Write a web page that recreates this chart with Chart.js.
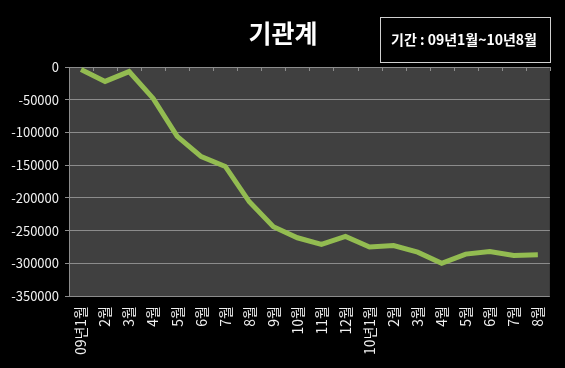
<!DOCTYPE html>
<html>
<head>
<meta charset="utf-8">
<script src="https://cdn.jsdelivr.net/npm/chart.js@4"></script>
<style>
    html, body { margin: 0; padding: 0; background: #000; }
    #wrap { width: 565px; height: 368px; }
</style>
</head>
<body>
<div id="wrap"><canvas id="chart" width="565" height="368"></canvas></div>
<script>
const months = ['09년1월', '2월', '3월', '4월', '5월', '6월', '7월', '8월', '9월', '10월',
    '11월', '12월', '10년1월', '2월', '3월', '4월', '5월', '6월', '7월', '8월']
const totals = [-4000, -22000, -7000, -48000, -106000, -137000, -152000, -206000, -244000, -261000,
    -271000, -259000, -275000, -273000, -283000, -300000, -286000, -282000, -288000, -287000]
const titleText = '기관계'
const periodText = '기간 : 09년1월~10년8월'

const FONT = '"Noto Sans CJK KR", "Noto Sans", sans-serif'

// 플롯 배경 + 위쪽 눈금 + 제목/기간 박스
const decor = {
    id: 'decor',
    beforeDraw(chart) {
        const {ctx, chartArea: a} = chart
        ctx.save()
        ctx.fillStyle = '#404040'
        ctx.fillRect(a.left, a.top, a.right - a.left, a.bottom - a.top)
        ctx.restore()
    },
    afterDraw(chart) {
        const {ctx, chartArea: a, scales} = chart
        const x = scales.x
        const half = (x.getPixelForValue(1) - x.getPixelForValue(0)) / 2
        ctx.save()
        ctx.strokeStyle = '#8c8c8c'
        ctx.lineWidth = 1
        for (let i = 0; i <= months.length; i++) {
            const px = Math.round(x.getPixelForValue(i) - half) + 0.5
            ctx.beginPath()
            ctx.moveTo(px, a.top)
            ctx.lineTo(px, a.top + 4)
            ctx.stroke()
        }
        ctx.fillStyle = '#ffffff'
        ctx.textAlign = 'center'
        ctx.textBaseline = 'middle'
        ctx.font = 'bold 25px ' + FONT
        ctx.fillText(titleText, 283, 33)
        ctx.strokeStyle = '#d0d0d0'
        ctx.strokeRect(380.5, 17.5, 170, 45)
        ctx.font = 'bold 14px ' + FONT
        ctx.fillText(periodText, 464, 40)
        ctx.restore()
    }
}

new Chart(document.getElementById('chart'), {
    type: 'line',
    plugins: [decor],
    data: {
        labels: months,
        datasets: [{
            data: totals,
            borderColor: '#93bc51',
            borderWidth: 5,
            pointRadius: 0,
            tension: 0,
            fill: false,
        }]
    },
    options: {
        responsive: false,
        animation: false,
        layout: { padding: { top: 67, right: 14, left: 0, bottom: 0 } },
        plugins: {
            legend: { display: false },
            tooltip: { enabled: false },
        },
        scales: {
            x: {
                offset: true,
                grid: { display: false, drawTicks: false },
                border: { display: false },
                ticks: {
                    color: '#f0f0f0',
                    font: { family: FONT, size: 14 },
                    minRotation: 90,
                    maxRotation: 90,
                    autoSkip: false,
                    padding: 10,
                },
                afterFit(scale) { scale.height = 72 },
            },
            y: {
                min: -350000,
                max: 0,
                grid: { color: '#8c8c8c', lineWidth: 1, tickLength: 4 },
                border: { display: true, color: '#8c8c8c' },
                ticks: {
                    stepSize: 50000,
                    color: '#f0f0f0',
                    font: { family: FONT, size: 13 },
                    padding: 6,
                    callback: v => String(v),
                },
                afterFit(scale) { scale.width = 69 },
            }
        }
    }
})
</script>
</body>
</html>
